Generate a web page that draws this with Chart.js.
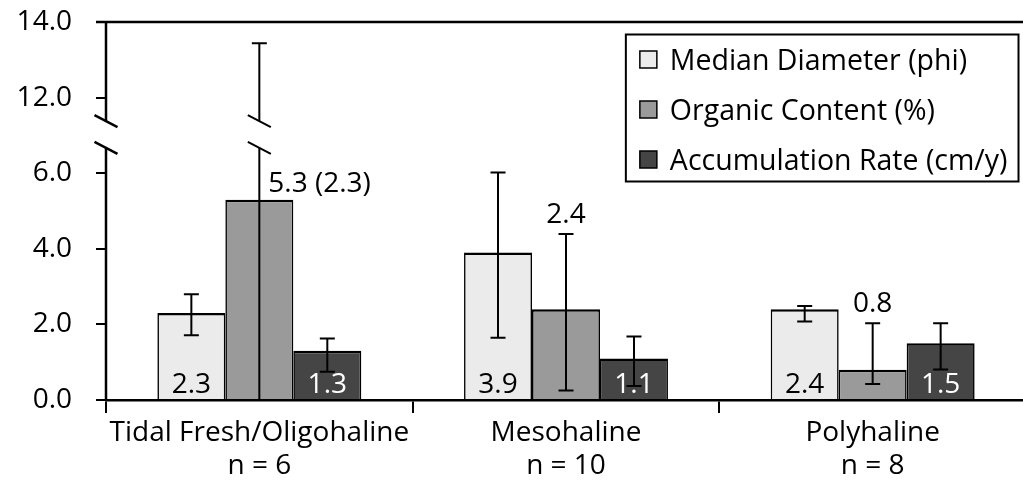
<!DOCTYPE html>
<html>
<head>
<meta charset="utf-8">
<script src="https://cdn.jsdelivr.net/npm/chart.js@4.4.1/dist/chart.umd.min.js"></script>
<style>
  html, body { margin: 0; padding: 0; background: #fff; overflow: hidden; }
  #wrap { width: 1026px; height: 481px; }
</style>
</head>
<body>
<div id="wrap"><canvas id="c"></canvas></div>
<script>
// ---- data ----
const categories = ['Tidal Fresh/Oligohaline', 'Mesohaline', 'Polyhaline'];
const sampleSizes = [6, 10, 8];
const seriesNames = ['Median Diameter (phi)', 'Organic Content (%)', 'Accumulation Rate (cm/y)'];

const medianDiameter   = [2.3, 3.9, 2.4];
const organicContent   = [5.3, 2.4, 0.8];
const accumulationRate = [1.3, 1.1, 1.5];

// whisker ends (upper / lower)
const medianUpper   = [2.80, 6.06, 2.49];
const medianLower   = [1.71, 1.65, 2.08];
const organicUpper  = [13.44, 4.39, 2.03];
const organicLower  = [0.0, 0.25, 0.42];
const accumUpper    = [1.63, 1.68, 2.03];
const accumLower    = [0.75, 0.37, 0.81];

// organic content recomputed without the outlier site (shown in parentheses)
const organicAlt = [2.3, null, null];

const yTickLabels = ['0.0', '2.0', '4.0', '6.0', '12.0', '14.0'];

// ---- broken value axis: 0-6 linear, 6-12 squeezed into one step, 12-14 linear ----
const LOWER_TOP = 6, UPPER_BOTTOM = 12;
function toAxis(v) {
  if (v <= LOWER_TOP) return v;
  if (v >= UPPER_BOTTOM) return v - UPPER_BOTTOM + LOWER_TOP + 2;
  return LOWER_TOP + (v - LOWER_TOP) * 2 / (UPPER_BOTTOM - LOWER_TOP);
}
const BREAK_GAP = [6.67, 7.38];   // axis units where the lines are interrupted

const FONT = "'Open Sans', 'Noto Sans', sans-serif";
const fills = ['#ebebeb', '#9a9a9a', '#454545'];
const seriesValues = [medianDiameter, organicContent, accumulationRate];
const seriesUpper = [medianUpper, organicUpper, accumUpper];
const seriesLower = [medianLower, organicLower, accumLower];

// vertical line that jumps the axis break with two slash marks
function brokenVLine(ctx, y, px, fromVal, toVal) {
  const yA = y.getPixelForValue(fromVal);
  const yB = y.getPixelForValue(toVal);
  const g0 = y.getPixelForValue(BREAK_GAP[0]);
  const g1 = y.getPixelForValue(BREAK_GAP[1]);
  ctx.beginPath();
  if (toVal > BREAK_GAP[1] && fromVal < BREAK_GAP[0]) {
    ctx.moveTo(px, yA); ctx.lineTo(px, g0);
    ctx.moveTo(px, g1); ctx.lineTo(px, yB);
    ctx.stroke();
    ctx.beginPath();
    for (const gy of [g0, g1]) {
      ctx.moveTo(px - 11.5, gy - 6);
      ctx.lineTo(px + 11.5, gy + 6);
    }
    ctx.stroke();
  } else {
    ctx.moveTo(px, yA); ctx.lineTo(px, yB);
    ctx.stroke();
  }
}

const frameAndMarks = {
  id: 'frameAndMarks',
  afterDatasetsDraw(chart) {
    const { ctx, chartArea: a, scales: { y } } = chart;
    ctx.save();
    ctx.strokeStyle = '#000';
    ctx.lineCap = 'butt';

    // top frame line and broken value axis
    ctx.lineWidth = 2.5;
    ctx.beginPath();
    ctx.moveTo(a.left - 10, a.top); ctx.lineTo(a.right, a.top);
    ctx.stroke();
    brokenVLine(ctx, y, a.left, 0, 10);

    // value labels
    ctx.font = '28px ' + FONT;
    const base = y.getPixelForValue(0);
    seriesValues.forEach((vals, di) => {
      const meta = chart.getDatasetMeta(di);
      vals.forEach((v, j) => {
        const el = meta.data[j];
        const txt = v.toFixed(1);
        if (di === 1) {
          ctx.fillStyle = '#000';
          if (organicAlt[j] !== null) {
            ctx.textAlign = 'left';
            ctx.fillText(txt + ' (' + organicAlt[j].toFixed(1) + ')', el.x + 9, el.y - 8);
          } else {
            ctx.textAlign = 'center';
            ctx.fillText(txt, el.x, y.getPixelForValue(toAxis(seriesUpper[di][j])) - 11);
          }
        } else {
          ctx.textAlign = 'center';
          ctx.fillStyle = di === 2 ? '#fff' : '#000';
          ctx.fillText(txt, el.x, base - 7);
        }
      });
    });

    // error bars
    ctx.lineWidth = 2;
    seriesValues.forEach((vals, di) => {
      const meta = chart.getDatasetMeta(di);
      vals.forEach((v, j) => {
        const px = meta.data[j].x;
        const hi = toAxis(seriesUpper[di][j]);
        const lo = toAxis(seriesLower[di][j]);
        brokenVLine(ctx, y, px, lo, hi);
        ctx.beginPath();
        for (const val of [hi, lo]) {
          const py = y.getPixelForValue(val);
          ctx.moveTo(px - 7.5, py); ctx.lineTo(px + 7.5, py);
        }
        ctx.stroke();
      });
    });
    ctx.restore();
  },
  afterDraw(chart) {
    // boxed legend, upper right of the plot
    const { ctx, chartArea: a } = chart;
    ctx.save();
    ctx.font = '28.5px ' + FONT;
    const textW = Math.max(...seriesNames.map(s => ctx.measureText(s).width));
    const right = a.right - 7.5, top = a.top + 12.5;
    const w = 44 + textW + 11, h = 147;
    const left = right - w;
    ctx.fillStyle = '#fff';
    ctx.fillRect(left, top, w, h);
    ctx.lineWidth = 2;
    ctx.strokeStyle = '#000';
    ctx.strokeRect(left, top, w, h);
    seriesNames.forEach((s, i) => {
      const bl = top + 35.5 + i * 50;
      ctx.fillStyle = fills[i];
      ctx.fillRect(left + 14, bl - 19, 17, 17);
      ctx.lineWidth = 1.5;
      ctx.strokeRect(left + 14, bl - 19, 17, 17);
      ctx.fillStyle = '#000';
      ctx.textAlign = 'left';
      ctx.fillText(s, left + 44, bl);
    });
    ctx.restore();
  }
};

function build() {
  Chart.defaults.font.family = FONT;
  Chart.defaults.color = '#000';
  new Chart(document.getElementById('c'), {
    type: 'bar',
    data: {
      labels: categories.map((c, i) => [c, 'n = ' + sampleSizes[i]]),
      datasets: seriesNames.map((name, i) => ({
        label: name,
        data: seriesValues[i].map(toAxis),
        backgroundColor: fills[i],
        borderColor: '#000',
        borderWidth: { top: 2.5, left: 1.6, right: 1.6, bottom: 0 },
        borderSkipped: false,
        categoryPercentage: 0.665,
        barPercentage: 1.0
      }))
    },
    options: {
      responsive: true,
      maintainAspectRatio: false,
      animation: false,
      devicePixelRatio: 1,
      layout: { padding: { top: 22, right: 0, left: 0, bottom: 0 } },
      plugins: { legend: { display: false }, tooltip: { enabled: false } },
      scales: {
        x: {
          offset: true,
          border: { display: true, color: '#000', width: 2.5 },
          grid: { display: true, offset: true, drawOnChartArea: false, drawTicks: true,
                  tickLength: 13, color: '#000', lineWidth: 2 },
          ticks: { font: { size: 28, family: FONT }, color: '#000', padding: 3, maxRotation: 0 },
          afterFit(s) { s.height = 81; }
        },
        y: {
          min: 0, max: 10,
          border: { display: false },
          grid: { display: true, drawOnChartArea: false, drawTicks: true,
                  tickLength: 10, color: '#000', lineWidth: 2 },
          ticks: {
            stepSize: 2,
            padding: 24,
            font: { size: 28, family: FONT },
            color: '#000',
            callback: (v) => yTickLabels[Math.round(v / 2)]
          },
          afterFit(s) { s.width = 106; s.paddingTop = 0; s.paddingBottom = 0; }
        }
      }
    },
    plugins: [frameAndMarks]
  });
}

if (document.fonts && document.fonts.load) {
  Promise.all([document.fonts.load("28px 'Open Sans'"), document.fonts.load("28.5px 'Open Sans'")])
    .then(build, build);
} else {
  build();
}
</script>
</body>
</html>
